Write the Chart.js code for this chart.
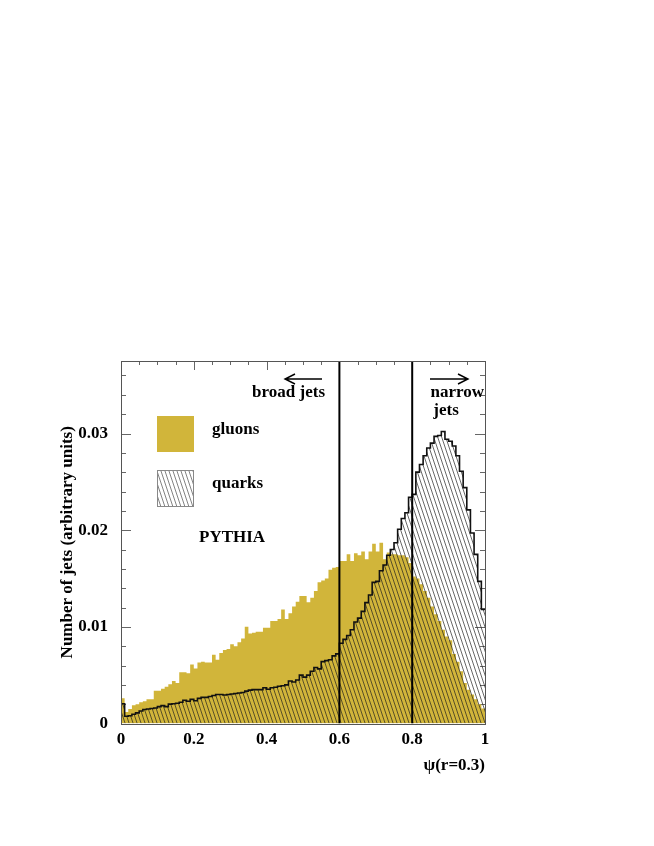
<!DOCTYPE html>
<html>
<head>
<meta charset="utf-8">
<script src="https://cdn.jsdelivr.net/npm/chart.js@4.4.1/dist/chart.umd.min.js"></script>
<style>
  html, body { margin: 0; padding: 0; background: #fff; }
</style>
</head>
<body>
<canvas id="chart" width="654" height="846"></canvas>
<script>
// Histogram: 100 bins of psi(r=0.3) from 0 to 1
const xMin = 0, xMax = 1, nBins = 100;

const gluons = [
  0.0026, 0.0012, 0.0015, 0.0019, 0.0020, 0.0022, 0.0023, 0.0025, 0.0025, 0.0034,
  0.0034, 0.0036, 0.0038, 0.00405, 0.0044, 0.0042, 0.0053, 0.0053, 0.0052, 0.0061,
  0.0057, 0.0063, 0.0064, 0.0063, 0.0063, 0.0071, 0.0066, 0.0073, 0.0076, 0.0077,
  0.0082, 0.0080, 0.0084, 0.0088, 0.0100, 0.0093, 0.0094, 0.0095, 0.0095, 0.0099,
  0.0099, 0.0106, 0.0106, 0.0108, 0.0118, 0.0108, 0.0114, 0.0121, 0.0126, 0.0132,
  0.0132, 0.01255, 0.0130, 0.0137, 0.0146, 0.0148, 0.0150, 0.0159, 0.0161, 0.0162,
  0.0168, 0.0168, 0.0175, 0.0168, 0.0176, 0.0174, 0.0178, 0.0170, 0.0178, 0.0186,
  0.0178, 0.0187, 0.0170, 0.0177, 0.0175, 0.0175, 0.0174, 0.0174, 0.0172, 0.0166,
  0.0152, 0.0150, 0.0144, 0.0137, 0.0130, 0.0121, 0.0113, 0.0106, 0.0097, 0.0090,
  0.0086, 0.0072, 0.0064, 0.0054, 0.0042, 0.0035, 0.0030, 0.0025, 0.0020, 0.00155
];

const quarks = [
  0.00205, 0.00075, 0.0008, 0.00095, 0.0011, 0.0013, 0.00145, 0.0015, 0.00155, 0.0016,
  0.00175, 0.00185, 0.00175, 0.0020, 0.00205, 0.0021, 0.0022, 0.0024, 0.0023, 0.0025,
  0.00235, 0.0026, 0.0027, 0.0027, 0.0028, 0.0029, 0.0030, 0.0030, 0.00295, 0.0030,
  0.00305, 0.0031, 0.00315, 0.0032, 0.00335, 0.00345, 0.0035, 0.0035, 0.0035, 0.0037,
  0.00355, 0.0037, 0.00375, 0.00385, 0.0039, 0.0040, 0.0044, 0.0043, 0.0045, 0.0050,
  0.0048, 0.0050, 0.0054, 0.0058, 0.00565, 0.0064, 0.0065, 0.0066, 0.0070, 0.0072,
  0.0083, 0.0087, 0.0091, 0.0097, 0.0105, 0.0109, 0.0116, 0.0125, 0.0133, 0.0146,
  0.0147, 0.0158, 0.0164, 0.0174, 0.0180, 0.0187, 0.0201, 0.0212, 0.0218, 0.0234,
  0.0237, 0.0260, 0.0268, 0.0277, 0.0285, 0.0290, 0.0297, 0.0298, 0.0302, 0.0294,
  0.0292, 0.0287, 0.0277, 0.0261, 0.0244, 0.0221, 0.0197, 0.0175, 0.0147, 0.0118
];

const cutLines = [0.6, 0.8];
const yMax = 0.0375;
const yLabels = [0, 0.01, 0.02, 0.03];
const xLabels = [0, 0.2, 0.4, 0.6, 0.8, 1];

const GLUON_COLOR = "rgb(209,181,58)";
const FONT = "'Liberation Serif', 'Times New Roman', serif";

// step points: lower edge of each bin + closing point at xMax
function toSteps(values) {
  const w = (xMax - xMin) / nBins;
  const pts = values.map((v, i) => ({ x: xMin + i * w, y: v }));
  pts.push({ x: xMax, y: values[values.length - 1] });
  return pts;
}

// Hatch pattern for quarks: thin steep lines going down-right
function makeHatch(stroke) {
  const c = document.createElement("canvas");
  c.width = 4; c.height = 12;
  const g = c.getContext("2d");
  g.strokeStyle = stroke;
  g.lineWidth = 0.8;
  g.beginPath();
  for (const dx of [-4, 0, 4]) {
    g.moveTo(dx, 0);
    g.lineTo(dx + 4, 12);
  }
  g.stroke();
  return g.createPattern(c, "repeat");
}

const ctx = document.getElementById("chart").getContext("2d");
const hatch = makeHatch("rgba(30,30,30,0.85)");

// Frame ticks (drawn under the histograms), frame, legend and annotations (drawn on top)
const decorations = {
  id: "decorations",
  beforeDatasetsDraw(chart) {
    const { ctx, chartArea: a, scales: { x, y } } = chart;
    ctx.save();
    ctx.strokeStyle = "#666";
    ctx.lineWidth = 1;
    ctx.beginPath();
    for (let i = 1; i * 0.002 < yMax; i++) {
      const py = Math.round(y.getPixelForValue(i * 0.002)) + 0.5;
      const len = i % 5 === 0 ? 10 : 5;
      ctx.moveTo(a.left, py); ctx.lineTo(a.left + len, py);
      ctx.moveTo(a.right, py); ctx.lineTo(a.right - len, py);
    }
    for (let i = 1; i < 20; i++) {
      const px = Math.round(x.getPixelForValue(i * 0.05)) + 0.5;
      const len = i % 4 === 0 ? 9 : 4;
      ctx.moveTo(px, a.top); ctx.lineTo(px, a.top + len);
    }
    ctx.stroke();
    ctx.restore();
  },
  afterDatasetsDraw(chart) {
    const { ctx, chartArea: a } = chart;
    ctx.save();
    // frame
    ctx.strokeStyle = "#555";
    ctx.lineWidth = 1;
    ctx.strokeRect(Math.round(a.left) + 0.5, Math.round(a.top) + 0.5,
      Math.round(a.right - a.left), Math.round(a.bottom - a.top));

    // legend boxes
    ctx.fillStyle = GLUON_COLOR;
    ctx.fillRect(157, 416, 37, 36);
    ctx.fillStyle = makeHatch("rgba(60,60,60,0.8)");
    ctx.fillRect(157, 470, 37, 37);
    ctx.strokeStyle = "#888";
    ctx.strokeRect(157.5, 470.5, 36, 36);

    ctx.fillStyle = "#000";
    ctx.font = `bold 17px ${FONT}`;
    ctx.textBaseline = "middle";
    ctx.textAlign = "left";
    ctx.fillText("gluons", 212, 430);
    ctx.fillText("quarks", 212, 484);
    ctx.fillText("PYTHIA", 199, 538);

    ctx.textAlign = "right";
    ctx.fillText("broad jets", 325, 393);
    ctx.fillText("narrow", 484, 393);
    ctx.textAlign = "center";
    ctx.fillText("jets", 446, 411);

    // arrows
    ctx.strokeStyle = "#000";
    ctx.lineWidth = 1.4;
    ctx.beginPath();
    ctx.moveTo(322, 379); ctx.lineTo(285, 379);
    ctx.moveTo(295, 374); ctx.lineTo(285, 379); ctx.lineTo(295, 384);
    ctx.moveTo(430, 379); ctx.lineTo(468, 379);
    ctx.moveTo(458, 374); ctx.lineTo(468, 379); ctx.lineTo(458, 384);
    ctx.stroke();
    ctx.restore();
  }
};

new Chart(ctx, {
  type: "line",
  data: {
    datasets: [
      {
        label: "gluons",
        data: toSteps(gluons),
        stepped: "before",
        fill: "origin",
        backgroundColor: GLUON_COLOR,
        borderWidth: 0,
        pointRadius: 0,
        order: 3
      },
      {
        label: "quarks",
        data: toSteps(quarks),
        stepped: "before",
        fill: "origin",
        backgroundColor: hatch,
        borderColor: "#111",
        borderWidth: 1.6,
        pointRadius: 0,
        order: 2
      },
      ...cutLines.map(v => ({
        label: `cut ${v}`,
        data: [{ x: v, y: 0 }, { x: v, y: yMax }],
        borderColor: "#000",
        borderWidth: 2,
        pointRadius: 0,
        fill: false,
        order: 1
      }))
    ]
  },
  options: {
    responsive: false,
    animation: false,
    layout: { padding: { top: 361, right: 169, left: 0, bottom: 0 } },
    plugins: { legend: { display: false }, tooltip: { enabled: false } },
    scales: {
      x: {
        type: "linear",
        min: xMin,
        max: xMax,
        grid: { display: false, drawTicks: false },
        border: { display: false },
        afterFit: (s) => { s.height = 122.5; },
        afterBuildTicks: (s) => { s.ticks = xLabels.map(v => ({ value: v })); },
        ticks: {
          padding: 6,
          color: "#000",
          font: { family: FONT, size: 17, weight: "bold" },
          callback: (v) => String(+v.toFixed(2))
        },
        title: {
          display: true,
          text: "ψ(r=0.3)",
          align: "end",
          color: "#000",
          font: { family: FONT, size: 17, weight: "bold" },
          padding: { top: 0, bottom: 70 }
        }
      },
      y: {
        type: "linear",
        min: 0,
        max: yMax,
        grid: { display: false, drawTicks: false },
        border: { display: false },
        afterFit: (s) => { s.width = 121; },
        afterBuildTicks: (s) => { s.ticks = yLabels.map(v => ({ value: v })); },
        ticks: {
          padding: 13,
          color: "#000",
          font: { family: FONT, size: 17, weight: "bold" },
          callback: (v) => String(+v.toFixed(3))
        },
        title: {
          display: true,
          text: "Number of jets (arbitrary units)",
          color: "#000",
          font: { family: FONT, size: 17, weight: "bold" },
          padding: { top: 57, bottom: 0 }
        }
      }
    }
  },
  plugins: [decorations]
});
</script>
</body>
</html>
